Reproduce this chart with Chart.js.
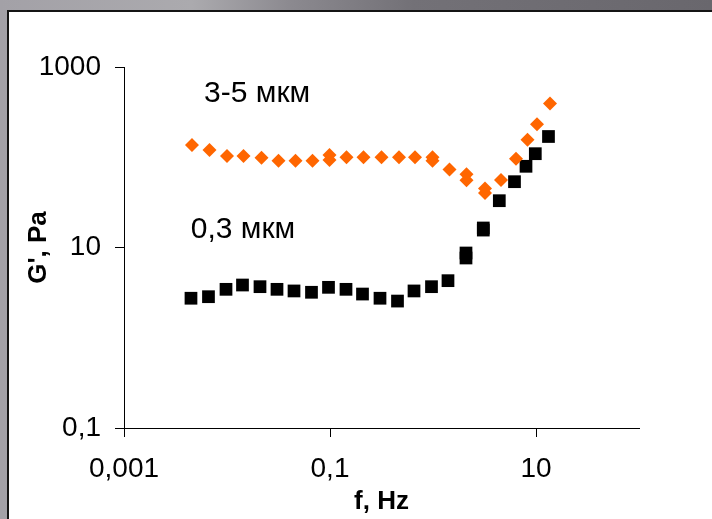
<!DOCTYPE html>
<html><head><meta charset="utf-8">
<script src="https://cdn.jsdelivr.net/npm/chart.js@4.4.0/dist/chart.umd.min.js"></script>
<style>
html,body{margin:0;padding:0;width:712px;height:519px;overflow:hidden;
background:linear-gradient(to right,#a3a1a7 0%,#abaaae 27%,#8b898f 41%,#737177 58%,#69676d 100%);}
#panel{position:absolute;left:7px;top:10px;width:705px;height:509px;background:#fff;border-left:2px solid #151515;border-top:2px solid #151515;box-sizing:border-box;}
#wrap{position:absolute;left:9px;top:12px;width:703px;height:507px;}
</style></head>
<body>
<div id="panel"></div>
<div id="wrap"><canvas id="c" width="703" height="507"></canvas></div>
<script>
// Series "3-5 мкм" (orange diamonds)
const freqLarge = [0.00457,0.00676,0.0100,0.01446,0.02163,0.03162,0.04624,0.06761,0.0989,0.0989,0.1446,0.2115,0.3162,0.4677,0.6688,0.989,0.989,1.446,2.115,2.115,3.198,3.198,4.574,6.394,8.271,10.22,13.68];
const gLarge    = [136.7,120.3,103.3,103.3,98.9,91.6,91.6,91.6,105.9,93.2,99.9,99.9,99.9,99.9,99.9,99.9,91.6,73.2,64.7,55.5,45.0,40.2,56.0,96.3,156.5,232.4,394];
// Series "0,3 мкм" (black squares)
const freqSmall = [0.00447,0.00661,0.00978,0.01414,0.02091,0.03058,0.04473,0.06612,0.0967,0.143,0.2068,0.3058,0.4522,0.654,0.967,1.398,2.091,2.091,3.078,3.078,4.403,6.183,7.996,9.845,13.22];
const gSmall    = [2.74,2.85,3.44,3.84,3.68,3.44,3.30,3.19,3.62,3.44,3.05,2.74,2.55,3.30,3.68,4.29,8.69,7.65,16.45,15.6,33.0,53.6,79.4,109.5,169.8];
// Tick values
const xTicks = [0.001,0.1,10];
const yTicks = [0.1,10,1000];
// In-chart labels (text and data-space anchor)
const noteText = ['3-5 мкм','0,3 мкм'];
const noteX = [0.0196,0.0143];
const noteY = [502,15.8];

const FONT = "'Liberation Sans', Arial, sans-serif";
const fmt = v => String(v).replace('.', ',');

const notesPlugin = {
  id:'notes',
  afterDatasetsDraw(chart){
    const {ctx, scales} = chart;
    ctx.save();
    ctx.font = "30px " + FONT;
    ctx.fillStyle = '#000';
    ctx.textAlign = 'center';
    ctx.textBaseline = 'middle';
    noteText.forEach((t,i)=>{
      ctx.fillText(t, scales.x.getPixelForValue(noteX[i]), scales.y.getPixelForValue(noteY[i]));
    });
    ctx.restore();
  }
};

new Chart(document.getElementById('c'), {
  type:'scatter',
  data:{
    datasets:[
      {label:'3-5 мкм', data:freqLarge.map((x,i)=>({x, y:gLarge[i]})),
       pointStyle:'rectRot', pointRadius:7, backgroundColor:'#FF6600', borderColor:'#FF6600', borderWidth:0, showLine:false},
      {label:'0,3 мкм', data:freqSmall.map((x,i)=>({x, y:gSmall[i]})),
       pointStyle:'rect', pointRadius:9, backgroundColor:'#000', borderColor:'#000', borderWidth:0, showLine:false}
    ]
  },
  options:{
    responsive:false, animation:false, devicePixelRatio:1,
    layout:{padding:{left:0,right:73,top:55,bottom:0}},
    plugins:{legend:{display:false}, tooltip:{enabled:false}},
    scales:{
      x:{type:'logarithmic', min:0.001, max:100, position:'bottom',
        afterFit(s){ s.height = 91; },
        afterBuildTicks(s){ s.ticks = xTicks.map(v=>({value:v})); },
        ticks:{callback:v=>fmt(v), font:{family:FONT, size:28}, color:'#000', padding:15, maxRotation:0, autoSkip:false},
        grid:{drawOnChartArea:false, drawTicks:true, tickLength:9, color:'#000', lineWidth:1},
        border:{display:true, color:'#000', width:1},
        title:{display:true, text:'f, Hz', font:{family:FONT, size:26, weight:'bold'}, color:'#000', padding:{top:0,bottom:2}}
      },
      y:{type:'logarithmic', min:0.1, max:1000, position:'left',
        afterFit(s){ s.width = 115; },
        afterBuildTicks(s){ s.ticks = yTicks.map(v=>({value:v})); },
        ticks:{callback:v=>fmt(v), font:{family:FONT, size:28}, color:'#000', padding:14, autoSkip:false},
        grid:{drawOnChartArea:false, drawTicks:true, tickLength:9, color:'#000', lineWidth:1},
        border:{display:true, color:'#000', width:1},
        title:{display:true, text:"G', Pa", font:{family:FONT, size:26, weight:'bold'}, color:'#000', padding:{top:14,bottom:0}}
      }
    }
  },
  plugins:[notesPlugin]
});
</script>
</body></html>
